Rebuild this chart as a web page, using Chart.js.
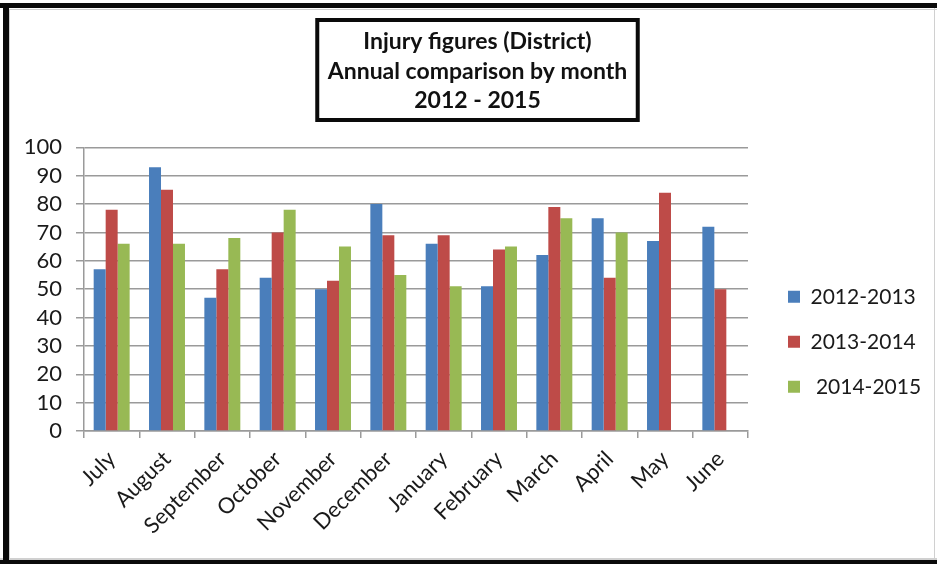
<!DOCTYPE html>
<html>
<head>
<meta charset="utf-8">
<script src="https://cdn.jsdelivr.net/npm/chart.js@4.4.1/dist/chart.umd.min.js"></script>
<style>
  html, body { margin: 0; padding: 0; background: #fff; }
  canvas { display: block; }
</style>
</head>
<body>
<canvas id="injuryChart" width="937" height="564"></canvas>
<script>
const months = ['July', 'August', 'September', 'October', 'November', 'December', 'January', 'February', 'March', 'April', 'May', 'June'];
const season1213 = [57, 93, 47, 54, 50, 80, 66, 51, 62, 75, 67, 72];
const season1314 = [78, 85, 57, 70, 53, 69, 69, 64, 79, 54, 84, 50];
const season1415 = [66, 66, 68, 78, 65, 55, 51, 65, 75, 70, null, null];
const seriesNames = ['2012-2013', '2013-2014', ' 2014-2015'];
const titleLines = ['Injury figures (District)', 'Annual comparison by month', '2012 - 2015'];

const FONT = 'Lato, "DejaVu Sans", sans-serif';
const gridGrey = '#9a9a9a';
const LEGEND_WIDTH = 160;

// white page + the heavy black frame of the original screenshot
const frame = {
    id: 'frame',
    beforeLayout(chart){
        // legend is capped at a share of the width, give it the room it needs
        const lg = chart.legend;
        if (lg && !lg._widened) {
            const fit = lg.fit;
            lg.fit = function(){
                fit.call(this);
                this.width = LEGEND_WIDTH;
            };
            lg._widened = true;
        }
    },
    afterLayout(chart){
        // let the y tick labels spill left of the layout padding
        chart.scales.y.left = 12;
    },
    beforeDraw(chart){
        const c = chart.ctx;
        c.save();
        c.fillStyle = '#fff';
        c.fillRect(0, 0, chart.width, chart.height);
        c.fillStyle = '#d0d0d0';
        c.fillRect(9, 9, chart.width - 9, 1);
        c.fillRect(9, 9, 1, chart.height - 13);
        c.fillRect(0, 558, chart.width, 2);
        c.fillRect(934, 8, 1, 550);
        c.fillStyle = '#0a0a0a';
        c.fillRect(0, 3, chart.width, 5);
        c.fillRect(3, 3, 6, chart.height - 3);
        c.fillRect(0, 560, chart.width, 4);
        c.restore();
    }
};

// black box round the title text
const titleBox = {
    id: 'titleBox',
    afterDraw(chart){
        const t = chart.titleBlock;
        const c = chart.ctx;
        c.save();
        c.font = 'bold 23px ' + FONT;
        let w = 0;
        titleLines.forEach(l => { w = Math.max(w, c.measureText(l).width); });
        const cx = (t.left + t.right) / 2;
        c.strokeStyle = '#0a0a0a';
        c.lineWidth = 4;
        c.strokeRect(cx - (w + 21) / 2, t.top + 20, w + 21, 100);
        c.restore();
    }
};

new Chart(document.getElementById('injuryChart'), {
    type: 'bar',
    data: {
        labels: months,
        datasets: [
            { label: seriesNames[0], data: season1213, backgroundColor: '#4a7ebb' },
            { label: seriesNames[1], data: season1314, backgroundColor: '#be4b48' },
            { label: seriesNames[2], data: season1415, backgroundColor: '#98b954' }
        ]
    },
    options: {
        responsive: false,
        animation: false,
        datasets: {
            bar: {
                categoryPercentage: 0.65,
                barPercentage: 1.0
            }
        },
        layout: {
            padding: { left: 31, right: 13, top: 0, bottom: 0 }
        },
        scales: {
            x: {
                grid: {
                    display: true,
                    drawOnChartArea: false,
                    tickLength: 7,
                    color: gridGrey,
                    lineWidth: 1.5
                },
                border: { color: gridGrey, width: 1.5 },
                ticks: {
                    minRotation: 45,
                    maxRotation: 45,
                    autoSkip: false,
                    padding: 8,
                    color: '#1a1a1a',
                    font: { family: FONT, size: 22 }
                },
                afterFit(scale){ scale.height = 133; }
            },
            y: {
                min: 0,
                max: 100,
                ticks: {
                    stepSize: 10,
                    autoSkip: false,
                    padding: 14,
                    color: '#1a1a1a',
                    font: { family: FONT, size: 22 }
                },
                grid: {
                    color: gridGrey,
                    lineWidth: 1.5,
                    tickLength: 8
                },
                border: { color: gridGrey, width: 1.5 },
                afterFit(scale){ scale.width = 53; }
            },
            // empty strip between plot and legend
            gap: {
                type: 'linear',
                position: 'right',
                grid: { display: false },
                border: { display: false },
                ticks: { display: false },
                afterFit(scale){ scale.width = 16; }
            }
        },
        plugins: {
            title: {
                display: true,
                text: titleLines,
                color: '#111',
                font: { family: FONT, size: 23, weight: 'bold', lineHeight: 1.28 },
                padding: { top: 27, bottom: 32 }
            },
            legend: {
                position: 'right',
                fullSize: false,
                align: 'center',
                title: { display: true, text: '', padding: { top: 91, bottom: 0 } },
                labels: {
                    boxWidth: 12,
                    boxHeight: 12,
                    padding: 24,
                    color: '#1a1a1a',
                    font: { family: FONT, size: 21 }
                }
            },
            tooltip: { enabled: false }
        }
    },
    plugins: [frame, titleBox]
});
</script>
</body>
</html>
